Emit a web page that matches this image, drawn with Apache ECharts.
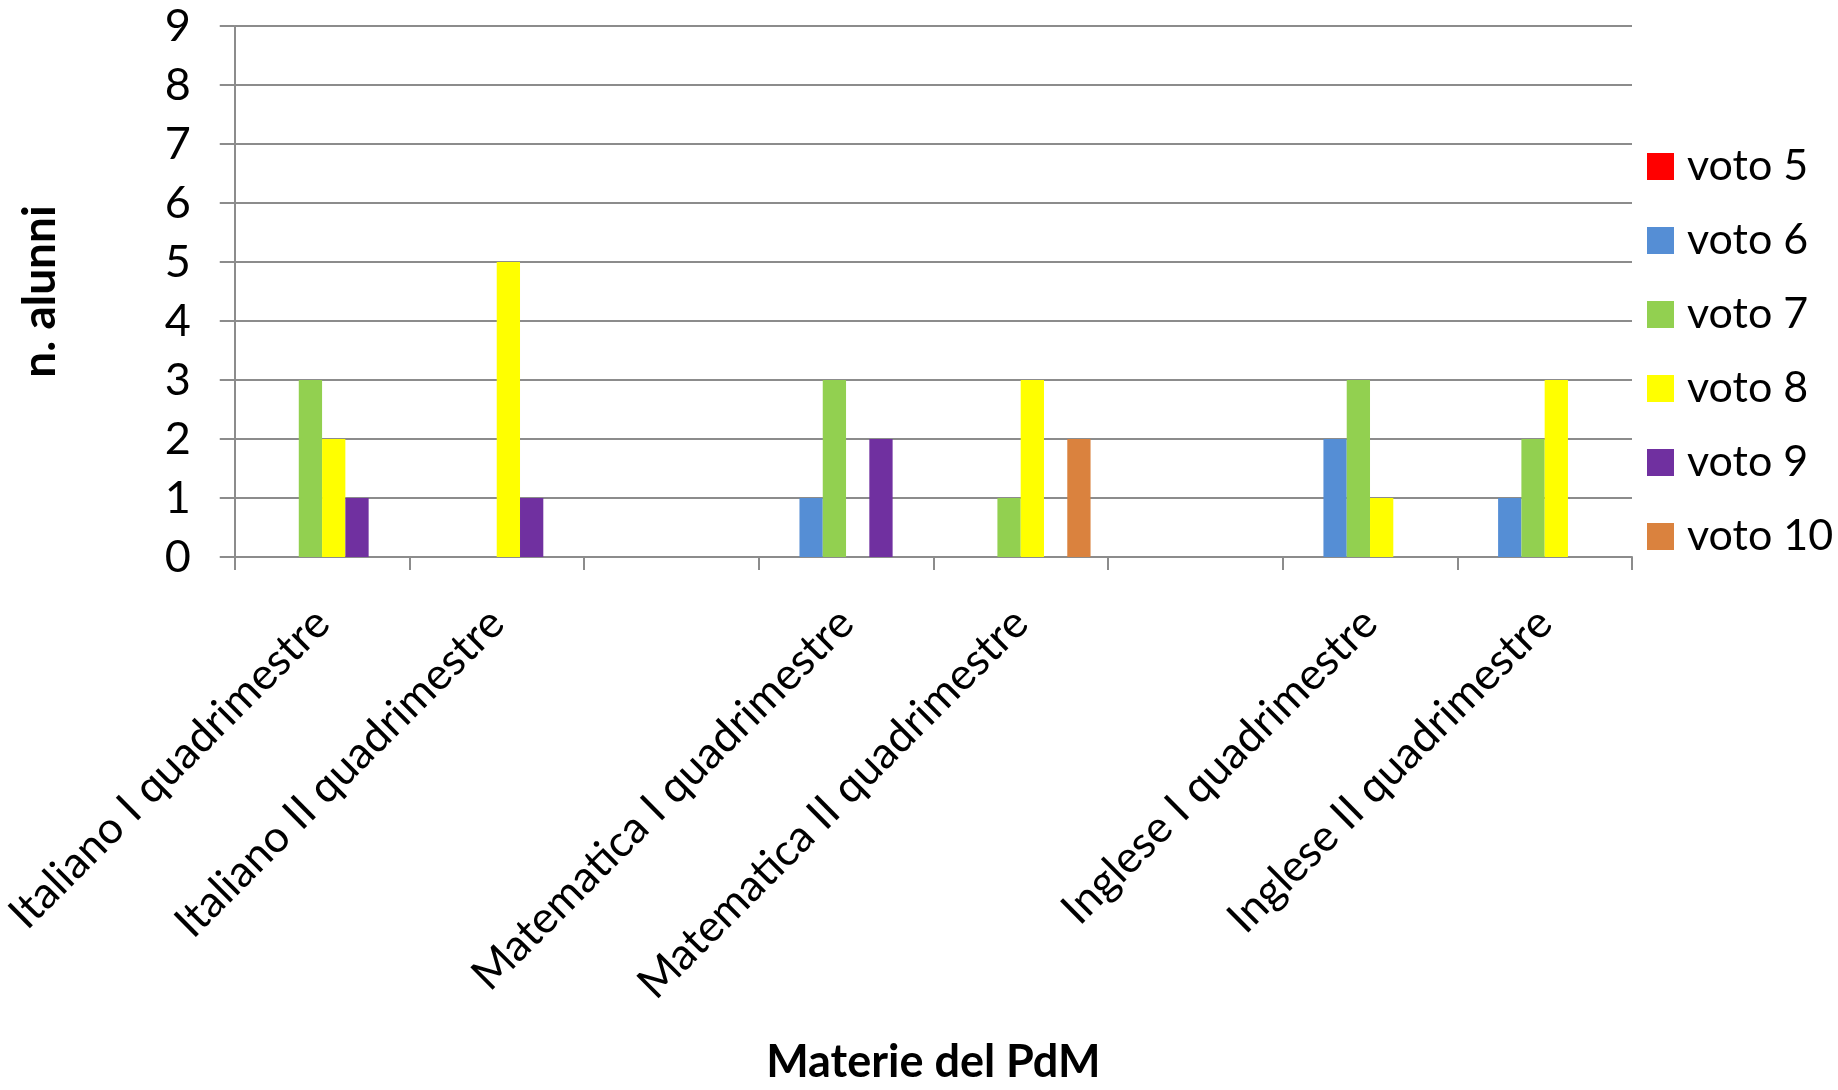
<!DOCTYPE html>
<html>
<head>
<meta charset="utf-8">
<script src="https://cdn.jsdelivr.net/npm/echarts@6/dist/echarts.min.js"></script>
<style>
html,body{margin:0;padding:0;background:#fff;}
#c{width:1838px;height:1090px;}
</style>
</head>
<body>
<div id="c"></div>
<script>
const categories = ["Italiano I quadrimestre", "Italiano II quadrimestre", "", "Matematica I quadrimestre", "Matematica II quadrimestre", "", "Inglese I quadrimestre", "Inglese II quadrimestre"];
const seriesNames = ["voto 5", "voto 6", "voto 7", "voto 8", "voto 9", "voto 10"];
const voto5  = [0, 0, null, 0, 0, null, 0, 0];
const voto6  = [0, 0, null, 1, 0, null, 2, 1];
const voto7  = [3, 0, null, 3, 1, null, 3, 2];
const voto8  = [2, 5, null, 0, 3, null, 1, 3];
const voto9  = [1, 1, null, 2, 0, null, 0, 0];
const voto10 = [0, 0, null, 0, 2, null, 0, 0];
const yTicks = [0, 9, 1];
const colors = ["#FF0000", "#558ED5", "#92D050", "#FFFF00", "#7030A0", "#DA823E"];

const values = [voto5, voto6, voto7, voto8, voto9, voto10];
const FONT = "Lato";
const chart = echarts.init(document.getElementById('c'), null, {renderer: 'canvas'});
chart.setOption({
  animation: false,
  backgroundColor: '#ffffff',
  color: colors,
  grid: {left: 225, right: 206, top: 26, bottom: 517, containLabel: false},
  legend: {
    orient: 'vertical',
    left: 1642,
    top: 140,
    icon: 'rect',
    itemWidth: 27,
    itemHeight: 27,
    itemGap: 31,
    textStyle: {fontFamily: FONT, fontSize: 43, lineHeight: 43, color: '#000', padding: [0, 0, 0, 8]},
    data: seriesNames
  },
  xAxis: {
    type: 'category',
    data: categories,
    name: 'Materie del PdM',
    nameLocation: 'middle',
    nameGap: 483,
    nameTextStyle: {fontFamily: FONT, fontSize: 45, fontWeight: 'bold', color: '#000'},
    axisLine: {lineStyle: {color: '#8C8C8C', width: 2}},
    axisTick: {show: true, length: 13, lineStyle: {color: '#8C8C8C', width: 2}},
    axisLabel: {interval: 0, rotate: 45, margin: 59, fontFamily: FONT, fontSize: 44, color: '#000'}
  },
  yAxis: {
    type: 'value',
    min: yTicks[0],
    max: yTicks[1],
    interval: yTicks[2],
    name: 'n. alunni',
    nameLocation: 'middle',
    nameGap: 172,
    nameTextStyle: {fontFamily: FONT, fontSize: 46, fontWeight: 'bold', color: '#000'},
    axisLine: {show: true, lineStyle: {color: '#8C8C8C', width: 2}},
    axisTick: {show: true, length: 15, lineStyle: {color: '#8C8C8C', width: 2}},
    axisLabel: {margin: 44, fontFamily: FONT, fontSize: 45, color: '#000'},
    splitLine: {show: true, lineStyle: {color: '#8C8C8C', width: 2}}
  },
  series: seriesNames.map((n, i) => ({
    name: n,
    type: 'bar',
    data: values[i],
    barGap: '0%',
    barCategoryGap: '20%',
    itemStyle: {color: colors[i]}
  }))
});
</script>
</body>
</html>
